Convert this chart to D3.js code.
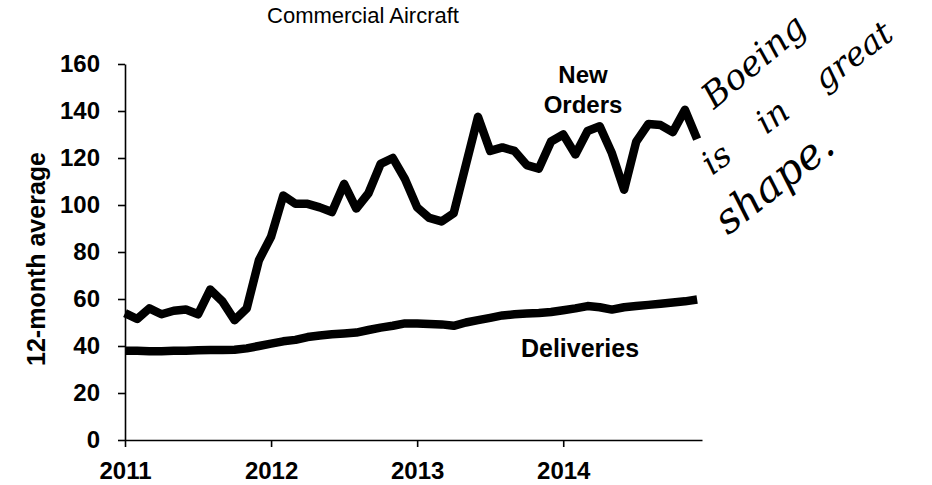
<!DOCTYPE html>
<html><head><meta charset="utf-8">
<script src="https://cdn.jsdelivr.net/npm/d3@7"></script>
<style>body{margin:0;background:#fff;}</style>
</head><body>
<svg id="chart" width="932" height="485"></svg>
<script>
// ---- data ----
const startYear = 2011;               // first month = Jan 2011, monthly points
const newOrders = [54,51.5,56,53.5,55,55.5,53.5,64,59,51,56,76.5,
                   86.5,104,100.5,100.5,99,97,109,98.5,105,117.5,120,111,
                   99,94.5,93,96.5,117,137.5,123,124.5,123,117,115.5,127,
                   130,121.5,131.5,133.5,122,106.5,127,134.5,134,131,140.5,128];
const deliveries = [38,38,37.8,37.8,38,38,38.2,38.3,38.3,38.4,39,40,
                    41,42,42.6,43.8,44.5,45,45.3,45.7,46.8,47.8,48.6,49.6,
                    49.6,49.4,49.2,48.6,50,51,52,53,53.5,53.8,54,54.5,
                    55.2,56,57,56.5,55.5,56.5,57,57.5,58,58.5,59,59.8];
const yTicks = [0,20,40,60,80,100,120,140,160];
const xTicks = [2011,2012,2013,2014];
const title = "Commercial Aircraft";
const yLabel = "12-month average";
const note = ["Boeing","is in great","shape."];

// ---- chart ----
const svg = d3.select("#chart");
const x = d3.scaleLinear().domain([2011, 2014.95]).range([125, 702]);
const y = d3.scaleLinear().domain([0, 160]).range([440, 64]);
const font = "'Liberation Sans', Arial, sans-serif";

svg.append("text").attr("x", 363).attr("y", 23).attr("text-anchor","middle")
  .attr("font-family", font).attr("font-size", 22).text(title);

const yAxis = svg.append("g").attr("transform","translate(125,0)")
  .call(d3.axisLeft(y).tickValues(yTicks).tickSize(7).tickSizeOuter(0).tickPadding(18));
const xAxis = svg.append("g").attr("transform","translate(0,440)")
  .call(d3.axisBottom(x).tickValues(xTicks).tickFormat(d3.format("d")).tickSize(7).tickSizeOuter(0).tickPadding(15));
[yAxis, xAxis].forEach(g => {
  g.selectAll("path,line").attr("stroke","#000").attr("stroke-width",1.6);
  g.selectAll("text").attr("font-family", font).attr("font-weight","bold")
    .attr("font-size", 24).attr("fill","#000");
});

svg.append("text").attr("transform","translate(45,259) rotate(-90)")
  .attr("text-anchor","middle").attr("font-family", font).attr("font-weight","bold")
  .attr("font-size", 25).text(yLabel);

const line = d3.line().x((d,i) => x(startYear + i/12)).y(d => y(d));
[newOrders, deliveries].forEach(s => {
  svg.append("path").datum(s).attr("d", line).attr("fill","none")
    .attr("stroke","#000").attr("stroke-width", 8.5).attr("stroke-linejoin","round");
});

const lab = (t, cx, by) => svg.append("text").attr("x", cx).attr("y", by)
  .attr("text-anchor","middle").attr("font-family", font).attr("font-weight","bold")
  .attr("font-size", 24).text(t);
lab("New", 583, 83);
lab("Orders", 583, 113);
svg.append("text").attr("x", 580).attr("y", 357).attr("text-anchor","middle")
  .attr("font-family", font).attr("font-weight","bold").attr("font-size", 25).text("Deliveries");

// handwritten note
const hw = (t, px, py, ang, size, ws) => svg.append("text")
  .attr("transform", `translate(${px},${py}) rotate(${ang})`)
  .attr("font-family","'DejaVu Serif', 'Liberation Serif', serif").attr("font-style","italic")
  .attr("font-weight", 300).attr("font-size", size).attr("word-spacing", ws).text(t);
hw(note[0], 714, 110, -40, 35, 0);
hw(note[1], 712, 176, -37, 33, 30);
hw(note[2], 728, 236, -38, 42, 0);
</script>
</body></html>
